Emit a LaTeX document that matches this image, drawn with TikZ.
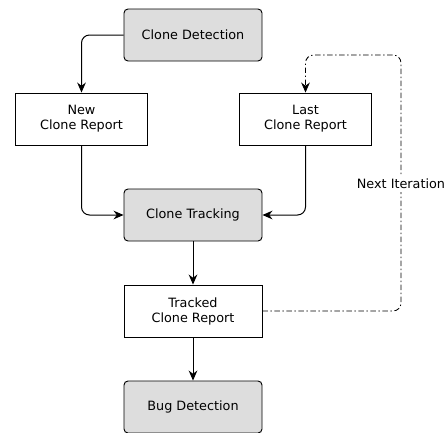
\documentclass[tikz,border=0pt]{standalone}
\usepackage{fontspec}
\setmainfont{DejaVu Sans}
\usetikzlibrary{arrows.meta}
\definecolor{stepgray}{HTML}{DDDDDD}
\tikzset{
  procbox/.style={draw, fill=stepgray, rounded corners=3pt, minimum width=103.5pt, minimum height=39pt, line width=0.7pt},
  reportbox/.style={draw, fill=white, minimum width=98.5pt, minimum height=39pt, align=center, line width=0.7pt},
  flow/.style={->, line width=0.75pt, rounded corners=6pt},
  loopline/.style={->, line width=0.65pt, rounded corners=6pt, dash pattern=on 4pt off 2pt on 1pt off 2pt}
}
\begin{document}
\begin{tikzpicture}[x=0.75pt, y=-0.75pt, >={Stealth[length=7.5pt,width=6.5pt]},
  every node/.style={font=\fontsize{9.6}{11.3}\selectfont}]
  \useasboundingbox (0,0) rectangle (448,432);
  % 1. Prozess-Knoten
  \node[procbox] (det) at (193,35) {Clone Detection};
  \node[reportbox] (new) at (81.5,119) {New\\Clone Report};
  \node[reportbox] (last) at (305.5,119) {Last\\Clone Report};
  \node[procbox] (trk) at (193,215) {Clone Tracking};
  \node[reportbox, minimum width=103.5pt] (tcr) at (193,311) {Tracked\\Clone Report};
  \node[procbox] (bug) at (193,407) {Bug Detection};

  % 2. Verbindungen
  \draw[flow] (det.west) -| (new.north);
  \draw[flow] (new.south) |- (trk.west);
  \draw[flow] (last.south) |- (trk.east);
  \draw[flow] (trk) -- (tcr);
  \draw[flow] (tcr) -- (bug);

  % 3. Rueckkopplung
  \coordinate (loopR) at (401,55);
  \draw[loopline] (tcr.east) -| (loopR) -| (last.north);
  \node[fill=white, inner sep=2pt] (nxt) at (401,184) {Next Iteration};
\end{tikzpicture}
\end{document}
